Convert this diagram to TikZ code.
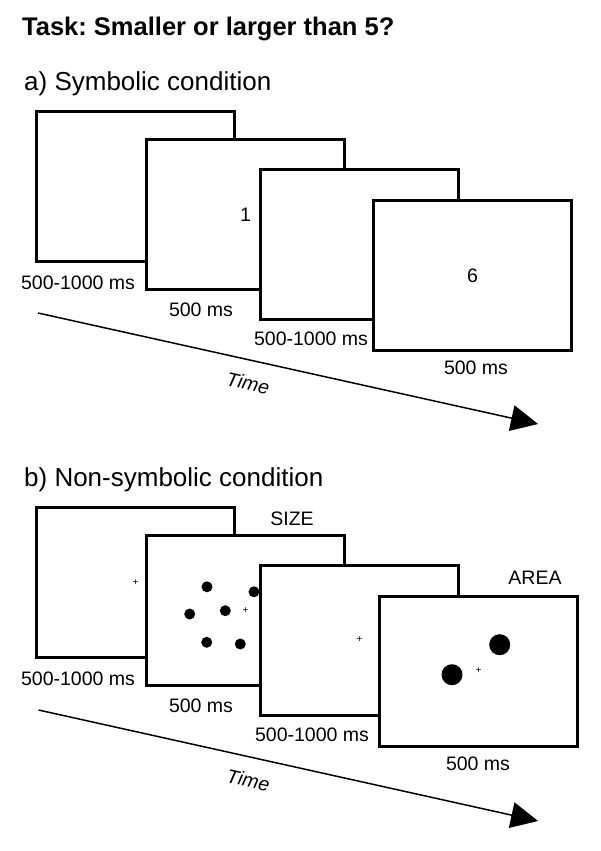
\documentclass[tikz,border=0pt]{standalone}
\usepackage{fontspec}
\setmainfont{Liberation Sans}
\usetikzlibrary{arrows.meta,positioning}
\tikzset{
	screen/.style={draw, fill=white, line width=3pt, inner sep=0pt, outer sep=0pt,
		minimum width=198pt, minimum height=150pt},
	dur/.style={inner sep=0pt, font=\fontsize{19.5}{22}\selectfont},
	cue/.style={inner sep=0pt, font=\fontsize{19.5}{22}\selectfont},
	fix/.style={inner sep=0pt, font=\fontsize{10}{10}\selectfont},
	timeline/.style={line width=1.5pt, -{Triangle[length=27pt,width=26pt]}},
	heading/.style={anchor=base west, inner sep=0pt, font=\fontsize{26}{30}\selectfont}
}

\begin{document}
\frenchspacing
\begin{tikzpicture}[x=1pt, y=-1pt]
   \useasboundingbox (0,0) rectangle (600,851);
   \node[heading, font=\bfseries\fontsize{25.5}{30}\selectfont] (task) at (22,36)
      {Task: Smaller or larger than 5?};

   % a) symbolic
   \node[heading] (ha) at (24,90) {a) Symbolic condition};
   \node[screen] (a1) at (135.5,186.5) {};
   \node[screen] (a2) at (245.5,214.5) {};
   \node[cue] (na2) at (a2.center) {1};
   \node[screen] (a3) at (359.5,244) {};
   \node[screen] (a4) at (472.5,275.5) {};
   \node[cue] (na4) at (a4.center) {6};
   \node[dur] (da1) at (78,283) {500-1000 ms};
   \node[dur] (da2) at (201,310) {500 ms};
   \node[dur] (da3) at (311,339) {500-1000 ms};
   \node[dur] (da4) at (476,368) {500 ms};
   \coordinate (ta0) at (38,313);
   \coordinate (ta1) at (538,424);
   \draw[timeline] (ta0) -- node[dur, sloped, below=15pt, pos=0.43,
      font=\itshape\fontsize{19.5}{22}\selectfont] (tma) {Time} (ta1);

   % b) non-symbolic
   \node[heading] (hb) at (24,486) {b) Non-symbolic condition};
   \node[screen] (b1) at (135.5,582.8) {};
   \node[fix] (fb1) at (b1.center) {+};
   \node[screen] (b2) at (245.5,610.8) {};
   \node[fix] (fb2) at (b2.center) {+};
   \foreach \dx/\dy in {-38.5/-24, 8.5/-19, -55.8/3.2, -20.2/-0.1, -38.8/31.5, -5.2/33.2}
      \fill (b2.center) ++(\dx,\dy) circle[radius=5.5pt];
   \node[screen] (b3) at (359.5,640) {};
   \node[fix] (fb3) at (b3.center) {+};
   \node[screen] (b4) at (478.5,671) {};
   \node[fix] (fb4) at (b4.center) {+};
   \fill (b4.center) ++(21.2,-26.3) circle[radius=10.5pt];
   \fill (b4.center) ++(-26.5,3.7) circle[radius=10.5pt];
   \node[cue] (size) at (292,519) {SIZE};
   \node[cue] (area) at (535,577.5) {AREA};
   \node[dur] (db1) at (78,679) {500-1000 ms};
   \node[dur] (db2) at (201,706) {500 ms};
   \node[dur] (db3) at (312,735) {500-1000 ms};
   \node[dur] (db4) at (478,764) {500 ms};
   \coordinate (tb0) at (38.5,710);
   \coordinate (tb1) at (538,821);
   \draw[timeline] (tb0) -- node[dur, sloped, below=15pt, pos=0.43,
      font=\itshape\fontsize{19.5}{22}\selectfont] (tmb) {Time} (tb1);
\end{tikzpicture}
\end{document}
